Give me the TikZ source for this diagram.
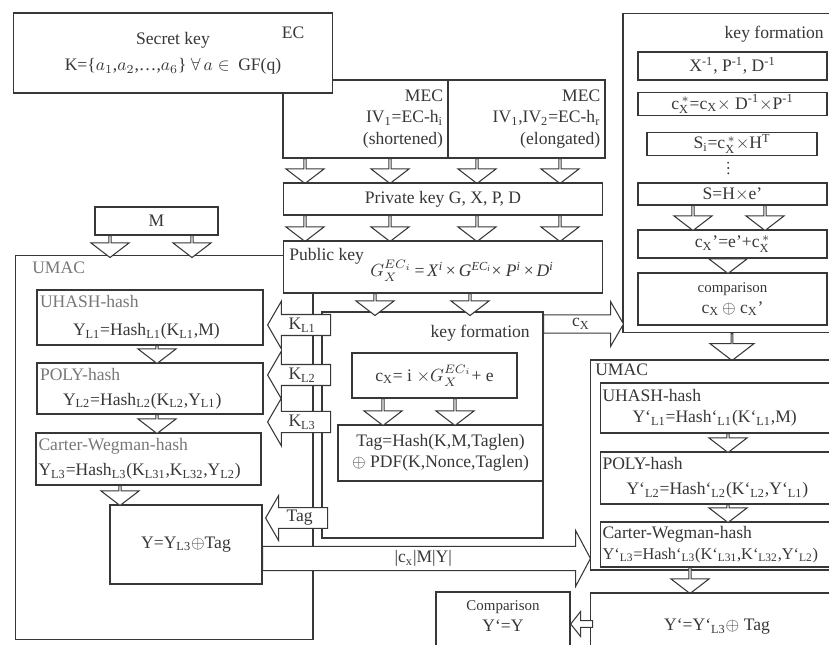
\documentclass[tikz,border=0pt]{standalone}
\usepackage{amsmath}
\usepackage{fontspec}
\setmainfont{Liberation Serif}
\usepackage{tikz}
\usetikzlibrary{shapes.arrows}
\definecolor{ink}{RGB}{55,55,55}
\definecolor{faded}{RGB}{120,120,120}
\newcommand{\lo}[1]{\textsubscript{#1}}
\newcommand{\hi}[1]{\textsuperscript{#1}}
\newcommand{\cxs}{c$_{\text{X}}^{\,*}$}

\begin{document}
\begin{tikzpicture}[
  x=0.02cm, y=-0.02cm, line width=0.6pt, color=ink,
  box/.style     = {rectangle, draw=ink, fill=white, inner sep=1pt},
  hashbox/.style = {box, align=left, text width=4.4cm},
  txt/.style     = {inner sep=1pt},
  darr/.style    = {single arrow, draw=ink, fill=white, rotate=-90, anchor=tail,
                    minimum width=0.76cm, single arrow head extend=0.18cm,
                    single arrow tip angle=105, inner sep=0pt},
  larr/.style    = {single arrow, draw=ink, fill=white, shape border rotate=180,
                    anchor=tip, single arrow tip angle=120, inner sep=1pt},
  rarr/.style    = {single arrow, draw=ink, fill=white, anchor=tail,
                    single arrow tip angle=120, inner sep=1pt},
]
  \useasboundingbox (0,0) rectangle (829,645);
  \clip (0,0) rectangle (829,645);

  % Secret key and modified curves
  \node[box, align=right, text width=3.1cm, minimum width=3.3cm, minimum height=1.56cm] (mec1) at (365.5,119) {MEC\\IV\lo{1}=EC-h\lo{i}\\(shortened)};
  \node[box, align=right, text width=2.95cm, minimum width=3.14cm, minimum height=1.56cm] (mec2) at (526.5,119) {MEC\\IV\lo{1},IV\lo{2}=EC-h\lo{r}\\(elongated)};
  \node[box, align=center, minimum width=6.4cm, minimum height=1.6cm] (sk) at (173,53) {Secret key\\[3pt]K=\{$a_1$,$a_2$,\ldots,$a_6$\} $\forall\,a\in$\ \ GF(q)};
  \node[txt] (ec) at (293,33) {EC};

  \node[darr, minimum height=0.5cm] (a1) at (305,158) {};
  \node[darr, minimum height=0.5cm] (a2) at (390,158) {};
  \node[darr, minimum height=0.5cm] (a3) at (477,158) {};
  \node[darr, minimum height=0.5cm] (a4) at (560,158) {};
  \node[box, minimum width=6.4cm, minimum height=0.64cm] (prk) at (443,199) {Private key G, X, P, D};

  % Sender UMAC
  \node[box, minimum width=2.46cm, minimum height=0.56cm] (m) at (156.5,221) {M};
  \node[box, minimum width=5.96cm, minimum height=7.7cm] (umac) at (164,447.5) {};
  \node[txt, anchor=west, text=faded] (umactxt) at (30,268) {UMAC};
  \node[darr, minimum height=0.44cm] (ma) at (110,235) {};
  \node[darr, minimum height=0.44cm] (mb) at (192,235) {};

  \node[darr, minimum height=0.52cm] (b1) at (305,215) {};
  \node[darr, minimum height=0.52cm] (b2) at (390,215) {};
  \node[darr, minimum height=0.52cm] (b3) at (477,215) {};
  \node[darr, minimum height=0.52cm] (b4) at (560,215) {};
  \node[box, minimum width=6.4cm, minimum height=1.04cm] (pbk) at (443,267) {};
  \node[txt, anchor=west] (pbktxt) at (287,256) {Public key};
  \node[txt] (pbkeq) at (462,271) {$G_X^{EC_i}$\,=\,\textit{X}\hi{\textit{i}}\,×\,\textit{G}\hi{\textit{EC}\lo{\textit{i}}}×\ \textit{P}\hi{\textit{i}}\,×\,\textit{D}\hi{\textit{i}}};

  % Key formation (sender)
  \node[box, minimum width=4.42cm, minimum height=4.52cm] (kf) at (432.5,425) {};
  \node[txt, anchor=east] (kftxt) at (532,333) {key formation};
  \node[box, minimum width=3.3cm, minimum height=0.9cm] (cx) at (434.5,375.5) {c\lo{X}= i $\times G_X^{EC_i}$+ e};
  \node[box, align=center, minimum width=4.1cm, minimum height=1.12cm] (tag) at (440.5,453) {Tag=Hash(K,M,Taglen)\\$\oplus$ PDF(K,Nonce,Taglen)};
  \node[darr, minimum height=0.44cm] (c1) at (375,293) {};
  \node[darr, minimum height=0.44cm] (c2) at (470,293) {};
  \node[darr, minimum height=0.54cm] (d1) at (383,398) {};
  \node[darr, minimum height=0.54cm] (d2) at (455,398) {};

  % Hash levels (sender)
  \node[hashbox, minimum width=4.52cm, minimum height=1.1cm] (uh) at (150,317.5) {\textcolor{faded}{UHASH-hash}\\[4pt]\hspace*{0.66cm}Y\lo{L1}=Hash\lo{L1}(K\lo{L1},M)};
  \node[hashbox, minimum width=4.52cm, minimum height=1.02cm] (poly) at (150,388.5) {\textcolor{faded}{POLY-hash}\\[2pt]\hspace*{0.46cm}Y\lo{L2}=Hash\lo{L2}(K\lo{L2},Y\lo{L1})};
  \node[hashbox, minimum width=4.5cm, minimum height=1.04cm] (cw) at (148.5,459) {\textcolor{faded}{Carter-Wegman-hash}\\[2pt]Y\lo{L3}=Hash\lo{L3}(K\lo{L31},K\lo{L32},Y\lo{L2})};
  \node[box, minimum width=3.04cm, minimum height=1.58cm] (yb) at (186,544.5) {Y=Y\lo{L3}$\oplus$Tag};
  \node[darr, minimum height=0.36cm] (u1) at (157,345) {};
  \node[darr, minimum height=0.38cm] (u2) at (157,414) {};
  \node[darr, minimum height=0.4cm] (u3) at (120,485) {};

  \node[larr, minimum height=1.26cm, minimum width=0.96cm, single arrow head extend=0.24cm] (kl1) at (267,325) {K\lo{L1}};
  \node[larr, minimum height=1.26cm, minimum width=0.96cm, single arrow head extend=0.24cm] (kl2) at (267,375) {K\lo{L2}};
  \node[larr, minimum height=1.26cm, minimum width=0.96cm, single arrow head extend=0.24cm] (kl3) at (267,422) {K\lo{L3}};
  \node[larr, minimum height=1.24cm, minimum width=0.9cm, single arrow head extend=0.23cm] (tg) at (265,518) {Tag};
  \node[rarr, minimum height=6.56cm, minimum width=1.12cm, single arrow head extend=0.27cm, single arrow tip angle=124] (msg) at (262,558.5) {|c\lo{x}|M|Y|};

  % Key formation (receiver)
  \node[box, minimum width=4.34cm, minimum height=6.4cm] (rkf) at (731.5,173) {};
  \node[txt, anchor=east] (rkftxt) at (826,34) {key formation};
  \node[box, minimum width=3.78cm, minimum height=0.56cm] (r1) at (732.5,66) {X\hi{-1}, P\hi{-1}, D\hi{-1}};
  \node[box, minimum width=3.78cm, minimum height=0.44cm] (r2) at (732.5,104) {\cxs=c\lo{X}$\times$ D\hi{-1}$\times$P\hi{-1}};
  \node[box, minimum width=3.4cm, minimum height=0.44cm] (r3) at (732,144) {S\lo{i}=\cxs$\times$H\hi{T}};
  \node[box, minimum width=3.78cm, minimum height=0.44cm] (r4) at (732.5,194) {S=H$\times$e'};
  \draw[line width=1.2pt, dash pattern=on 0pt off 3pt, line cap=round, shorten <=4pt, shorten >=4pt]
    ([xshift=-0.08cm]r3.south) -- ([xshift=-0.08cm]r4.north);
  \node[box, minimum width=3.78cm, minimum height=0.56cm] (r5) at (732.5,244) {c\lo{X}'=e'+\cxs};
  \node[box, align=center, minimum width=3.78cm, minimum height=1.04cm] (r6) at (732.5,299) {{\fontsize{8.5}{10}\selectfont comparison}\\c\lo{X}$\,\oplus$ c\lo{X}'};
  \node[darr, minimum height=0.5cm] (e1) at (693,205) {};
  \node[darr, minimum height=0.5cm] (e2) at (765,205) {};
  \node[darr, minimum height=0.3cm] (e3) at (728,258) {};
  \node[rarr, minimum height=1.6cm, minimum width=0.9cm, single arrow head extend=0.23cm] (cxa) at (543,324) {c\lo{X}};

  % Receiver UMAC
  \node[darr, minimum height=0.54cm, minimum width=0.88cm, single arrow head extend=0.24cm] (f) at (732,333) {};
  \node[box, minimum width=5cm, minimum height=4.2cm] (rumac) at (715,465) {};
  \node[txt, anchor=west] (rumactxt) at (593,370) {UMAC};
  \node[box, align=left, text width=4.7cm, minimum width=4.8cm, minimum height=1cm] (ruh) at (720,408) {UHASH-hash\\\hspace*{0.6cm}Y`\lo{L1}=Hash`\lo{L1}(K`\lo{L1},M)};
  \node[box, align=left, text width=4.7cm, minimum width=4.8cm, minimum height=1.04cm] (rpoly) at (720,478) {POLY-hash\\[2pt]\hspace*{0.48cm}Y`\lo{L2}=Hash`\lo{L2}(K`\lo{L2},Y`\lo{L1})};
  \node[box, align=left, text width=4.7cm, minimum width=4.8cm, minimum height=0.9cm] (rcw) at (720,544.5) {Carter-Wegman-hash\\{\fontsize{9.3}{11}\selectfont Y`\lo{L3}=Hash`\lo{L3}(K`\lo{L31},K`\lo{L32},Y`\lo{L2})}};
  \node[darr, minimum height=0.38cm] (g1) at (728,433) {};
  \node[darr, minimum height=0.36cm] (g2) at (728,504) {};
  \node[darr, minimum height=0.52cm] (g3) at (690,567) {};
  \node[box, minimum width=5.08cm, minimum height=1.34cm] (ry) at (717,626.5) {Y`=Y`\lo{L3}$\oplus$ Tag};
  \node[box, minimum width=2.68cm, minimum height=1.36cm] (cmp) at (503,626) {};
  \node[txt, align=center] (cmptxt) at (503,616) {{\fontsize{8.5}{10}\selectfont Comparison}\\Y`=Y};
  \node[larr, minimum height=0.44cm, minimum width=0.5cm, single arrow head extend=0.12cm, single arrow tip angle=103] (ca) at (570,624) {};
\end{tikzpicture}
\end{document}
